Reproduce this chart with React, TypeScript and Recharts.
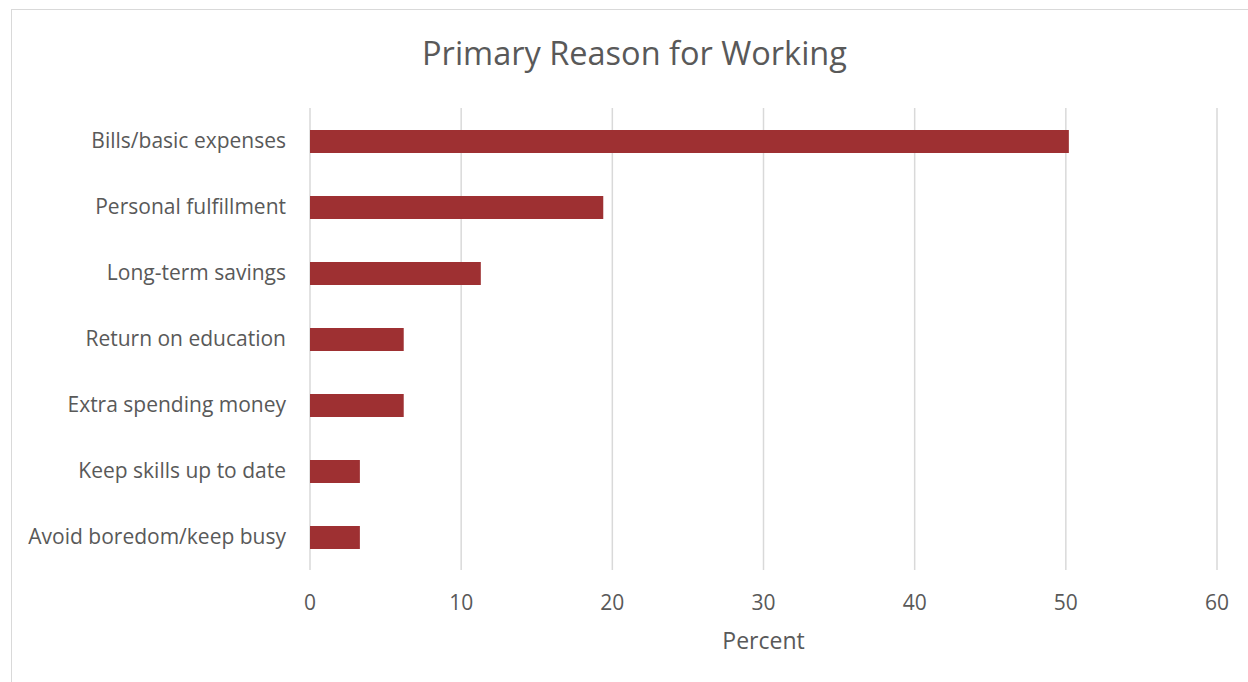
import React from "react";
import { BarChart, Bar, XAxis, YAxis, CartesianGrid } from "recharts";

const categories = [
  "Bills/basic expenses",
  "Personal fulfillment",
  "Long-term savings",
  "Return on education",
  "Extra spending money",
  "Keep skills up to date",
  "Avoid boredom/keep busy",
];
const percentValues = [50.2, 19.4, 11.3, 6.2, 6.2, 3.3, 3.3];
const xTicks = [0, 10, 20, 30, 40, 50, 60];

const data = categories.map((c, i) => ({ reason: c, percent: percentValues[i] }));

const FONT = "'Open Sans', 'Noto Sans', sans-serif";
const TEXT = "#595959";

export default function App() {
  return (
    <div style={{ position: "absolute", left: 0, top: 0, width: 1248, height: 682, background: "#fff", fontFamily: FONT }}>
      <div style={{ position: "absolute", left: 11, top: 9, width: 1237, height: 673, borderLeft: "1px solid #d9d9d9", borderTop: "1px solid #d9d9d9", boxSizing: "border-box" }} />
      <div style={{ position: "absolute", left: 0, width: 1269, top: 30, textAlign: "center", fontSize: 32.5, color: TEXT }}>
        Primary Reason for Working
      </div>
      <div style={{ position: "absolute", left: 0, top: 0 }}>
        <BarChart
          width={1248}
          height={682}
          layout="vertical"
          data={data}
          margin={{ top: 108, right: 31, bottom: 0, left: 0 }}
        >
          <CartesianGrid horizontal={false} stroke="#d9d9d9" strokeWidth={1.5} />
          <XAxis
            type="number"
            domain={[0, 60]}
            ticks={xTicks}
            interval={0}
            axisLine={false}
            tickLine={false}
            tickSize={0}
            tickMargin={25}
            height={112}
            tick={{ fill: TEXT, fontSize: 21, fontFamily: FONT }}
            label={{ value: "Percent", position: "insideTop", offset: 63, fill: TEXT, fontSize: 23, fontFamily: FONT }}
          />
          <YAxis
            type="category"
            dataKey="reason"
            width={310}
            axisLine={false}
            tickLine={false}
            tickSize={0}
            tickMargin={24}
            interval={0}
            tick={{ fill: TEXT, fontSize: 21, fontFamily: FONT }}
          />
          <Bar dataKey="percent" fill="#9E3032" barSize={23} isAnimationActive={false} />
        </BarChart>
      </div>
    </div>
  );
}
